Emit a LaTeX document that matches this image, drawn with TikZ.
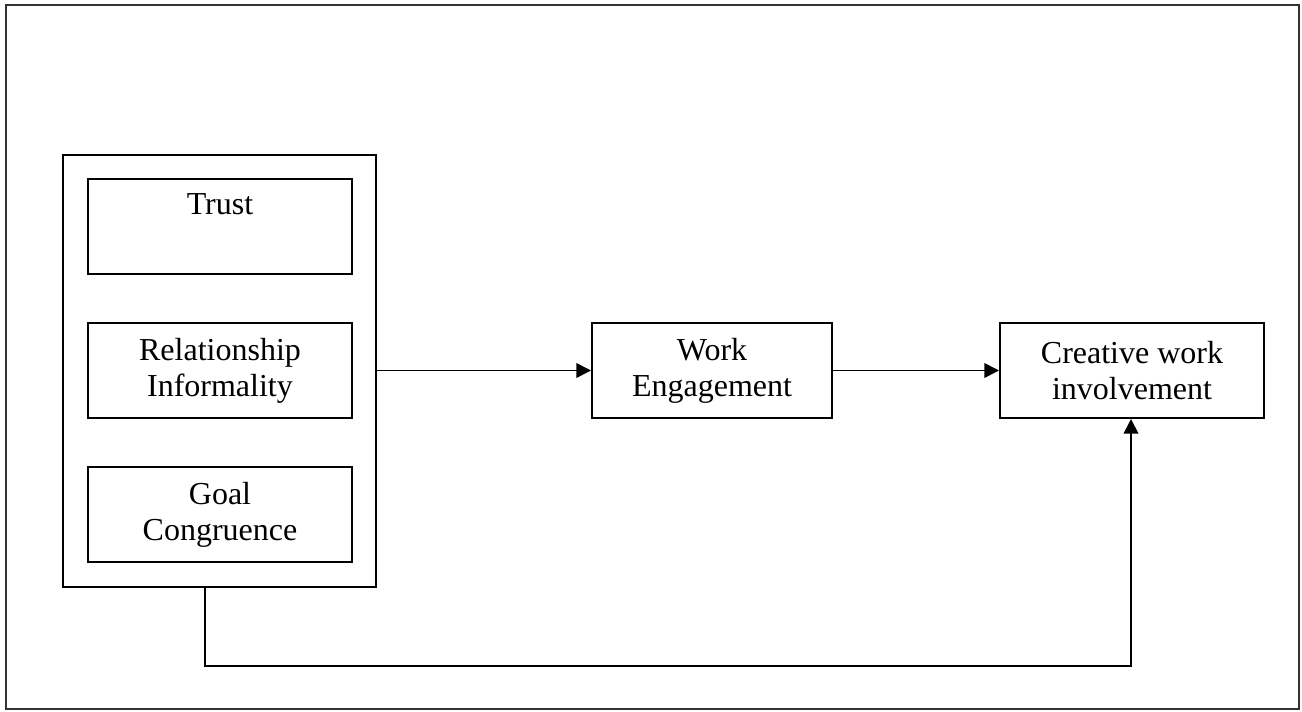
\documentclass[tikz,border=0pt]{standalone}
\usepackage{fontspec}
\setmainfont{Liberation Serif}
\usetikzlibrary{arrows.meta}
\begin{document}
\begin{tikzpicture}[x=0.75pt,y=-0.75pt,
  box/.style={draw=black,line width=1.5pt,inner sep=0pt,align=center,
    font=\fontsize{24}{27}\selectfont},
  conn/.style={line width=1.2pt,-{Triangle[length=11pt,width=11pt]}}]
\useasboundingbox (0,0) rectangle (1302,712);
\draw[line width=1pt,draw=black!80] (6,5) rectangle (1299,709);
\node[box,minimum width=313*0.75pt,minimum height=432*0.75pt] (grp) at (219.5,371) {};
\node[box,minimum width=264*0.75pt,minimum height=95*0.75pt] (trust) at (220,227) {Trust\\\strut};
\node[box,minimum width=264*0.75pt,minimum height=95*0.75pt] (rel) at (220,370.5) {Relationship\\Informality};
\node[box,minimum width=264*0.75pt,minimum height=95*0.75pt] (goal) at (220,514.5) {Goal\\Congruence};
\node[box,minimum width=240*0.75pt,minimum height=95*0.75pt] (we) at (712,370.5) {Work\\Engagement};
\node[box,minimum width=264*0.75pt,minimum height=95*0.75pt] (cwi) at (1132,370.5) {Creative work\\involvement};
\coordinate (c1) at (205,666);
\coordinate (c2) at (1131,666);
\draw[conn] (grp.east |- we.west) -- (we.west);
\draw[conn] (we.east) -- (cwi.west);
\draw[conn] (grp.south -| c1) -- (c1) -- (c2) -- (c2 |- cwi.south);
\end{tikzpicture}
\end{document}
